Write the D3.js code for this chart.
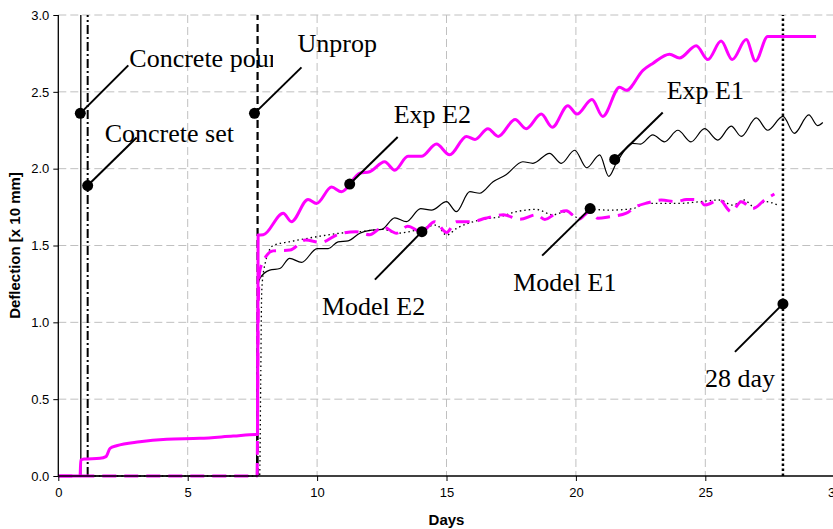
<!DOCTYPE html>
<html>
<head>
<meta charset="utf-8">
<script src="https://cdn.jsdelivr.net/npm/d3@7"></script>
<style>
  html, body { margin: 0; padding: 0; background: #ffffff; }
  svg { display: block; }
</style>
</head>
<body>
<svg id="chart" width="833" height="529"></svg>
<script>
// ---------------- DATA ----------------
const xTicks = [0, 5, 10, 15, 20, 25, 30];
const yTicks = [0.0, 0.5, 1.0, 1.5, 2.0, 2.5, 3.0];

// Exp E2 (magenta, thick solid)
const expE2Days = [0, 0.84, 0.87, 1.0, 1.61, 1.84, 2.0, 2.25, 3.15, 4.19, 5.47, 6.76, 7.66, 7.70, 7.72, 7.92, 8.69, 9.01, 9.65, 9.98, 10.56, 10.94, 11.65, 12.03, 12.61, 13.0, 13.51, 14.03, 14.61, 15.12, 15.77, 16.1, 16.6, 17.0, 17.65, 18.08, 18.66, 19.09, 19.69, 20.04, 20.62, 21.04, 21.69, 21.95, 22.59, 22.97, 23.62, 24.0, 24.65, 25.1, 25.61, 26.04, 26.58, 26.94, 27.41, 29.28];
const expE2Vals = [0, 0, 0.104, 0.11, 0.115, 0.126, 0.18, 0.197, 0.223, 0.239, 0.245, 0.26, 0.27, 0.27, 1.568, 1.57, 1.71, 1.655, 1.80, 1.774, 1.88, 1.85, 1.97, 1.98, 2.045, 1.99, 2.08, 2.08, 2.16, 2.09, 2.21, 2.19, 2.26, 2.21, 2.32, 2.26, 2.355, 2.27, 2.41, 2.355, 2.45, 2.34, 2.53, 2.51, 2.64, 2.685, 2.745, 2.72, 2.80, 2.71, 2.83, 2.71, 2.84, 2.70, 2.86, 2.86];

// Exp E1 (black, thin solid)
const expE1Days = [0, 7.66, 7.70, 7.79, 8.17, 8.56, 8.94, 9.4, 10.0, 10.43, 10.81, 11.2, 11.65, 12.1, 12.5, 13.0, 13.45, 14.0, 14.42, 15.0, 15.38, 15.9, 16.28, 16.8, 17.3, 17.95, 18.34, 18.98, 19.44, 19.95, 20.42, 20.92, 21.27, 21.56, 22.2, 22.5, 22.97, 23.42, 23.94, 24.45, 24.97, 25.48, 26.0, 26.39, 26.97, 27.41, 28.0, 28.44, 29.0, 29.34, 29.54];
const expE1Vals = [0, 0, 1.22, 1.286, 1.34, 1.35, 1.416, 1.39, 1.48, 1.48, 1.524, 1.53, 1.58, 1.60, 1.605, 1.68, 1.655, 1.74, 1.73, 1.785, 1.72, 1.85, 1.84, 1.915, 1.96, 2.045, 2.035, 2.10, 2.035, 2.12, 2.006, 2.09, 1.95, 2.035, 2.164, 2.16, 2.22, 2.175, 2.25, 2.175, 2.26, 2.186, 2.277, 2.21, 2.33, 2.25, 2.34, 2.23, 2.35, 2.28, 2.30];

// Model E2 (magenta, thick dashed)
const modelE2Days = [0, 7.68, 7.72, 7.76, 7.85, 8.3, 8.95, 9.55, 10.15, 10.75, 11.5, 12.03, 12.55, 13.07, 13.5, 14.03, 14.55, 15.0, 15.38, 16.0, 16.5, 17.2, 17.83, 18.47, 18.8, 19.24, 19.63, 20.1, 20.53, 20.85, 21.3, 21.95, 22.27, 22.78, 23.3, 23.88, 24.27, 24.78, 24.97, 25.55, 26.0, 26.39, 26.83, 27.29, 27.67];
const modelE2Vals = [0, 0, 1.0, 1.30, 1.373, 1.465, 1.47, 1.535, 1.52, 1.568, 1.59, 1.57, 1.62, 1.58, 1.625, 1.59, 1.655, 1.585, 1.655, 1.655, 1.677, 1.70, 1.67, 1.70, 1.67, 1.71, 1.726, 1.67, 1.72, 1.677, 1.687, 1.71, 1.748, 1.778, 1.796, 1.785, 1.80, 1.796, 1.763, 1.796, 1.72, 1.785, 1.74, 1.796, 1.835];

// Model E1 (black, dotted)
const modelE1Days = [0, 7.78, 7.82, 7.86, 7.95, 8.3, 8.95, 9.98, 10.88, 11.65, 12.55, 13.07, 13.96, 14.61, 15.0, 15.38, 16.28, 17.05, 17.7, 18.47, 19.1, 19.63, 20.14, 20.53, 21.3, 22.2, 22.72, 24.0, 24.78, 25.55, 26.06, 26.5, 26.9, 27.35, 27.8];
const modelE1Vals = [0, 0, 0.6, 1.2, 1.35, 1.5, 1.525, 1.557, 1.58, 1.59, 1.605, 1.58, 1.605, 1.633, 1.568, 1.61, 1.666, 1.687, 1.72, 1.735, 1.70, 1.72, 1.677, 1.735, 1.73, 1.74, 1.774, 1.774, 1.785, 1.796, 1.763, 1.796, 1.75, 1.785, 1.763];

// Event marker lines (day)
const markerNames = ["Concrete pour", "Concrete set", "Unprop", "28 day"];
const markerDays = [0.87, 1.135, 7.70, 28.0];

// Annotations: label, dot position (day, deflection)
const annotLabels = ["Concrete pour", "Concrete set", "Unprop", "Exp E2", "Model E2", "Model E1", "Exp E1", "28 day"];
const annotDays = [0.85, 1.135, 7.58, 11.26, 14.05, 20.55, 21.5, 28.0];
const annotVals = [2.36, 1.89, 2.36, 1.90, 1.59, 1.74, 2.06, 1.12];

// ---------------- LAYOUT ----------------
const svg = d3.select("#chart");
const L = 58.3, R = 834.7, T = 15, B = 476;
const x = d3.scaleLinear().domain([0, 30]).range([L, R]);
const y = d3.scaleLinear().domain([0, 3]).range([B, T]);

// gridlines
const grid = svg.append("g");
grid.selectAll("line.h").data(yTicks.filter(d => d > 0)).enter().append("line")
  .attr("x1", L).attr("x2", R).attr("y1", d => y(d)).attr("y2", d => y(d))
  .attr("stroke", "#c0c0c0").attr("stroke-width", 1).attr("stroke-dasharray", "8,4");
grid.selectAll("line.v").data(xTicks.filter(d => d > 0)).enter().append("line")
  .attr("y1", T).attr("y2", B).attr("x1", d => x(d)).attr("x2", d => x(d))
  .attr("stroke", "#c0c0c0").attr("stroke-width", 1).attr("stroke-dasharray", "8,4");

// marker lines
const markerStyles = [
  {w: 1.3, dash: null},
  {w: 2, dash: "9,3,2,3"},
  {w: 2.2, dash: "8,4"},
  {w: 2.5, dash: "2.5,2.5"}
];
svg.append("g").selectAll("line").data(markerDays).enter().append("line")
  .attr("x1", d => x(d)).attr("x2", d => x(d)).attr("y1", y(0)).attr("y2", y(3))
  .attr("stroke", "#000").attr("stroke-width", (d, i) => markerStyles[i].w)
  .attr("stroke-dasharray", (d, i) => markerStyles[i].dash);

// series
function pts(days, vals) { return days.map((d, i) => [d, vals[i]]); }
const line = d3.line().x(d => x(d[0])).y(d => y(d[1])).curve(d3.curveMonotoneX);

const g = svg.append("g").attr("fill", "none").attr("stroke-linejoin", "round");
g.append("path").datum(pts(modelE1Days, modelE1Vals)).attr("d", line)
  .attr("stroke", "#000").attr("stroke-width", 1.3).attr("stroke-dasharray", "1.5,3");
g.append("path").datum(pts(expE1Days, expE1Vals)).attr("d", line)
  .attr("stroke", "#000").attr("stroke-width", 1.2);
g.append("path").datum(pts(modelE2Days, modelE2Vals)).attr("d", line)
  .attr("stroke", "#ff00ff").attr("stroke-width", 3).attr("stroke-dasharray", "14,8");
g.append("path").datum(pts(expE2Days, expE2Vals)).attr("d", line)
  .attr("stroke", "#ff00ff").attr("stroke-width", 3);

// axes
const xAxis = svg.append("g").attr("transform", `translate(0,${B})`)
  .call(d3.axisBottom(x).tickValues(xTicks).tickFormat(d3.format("d")).tickSize(5).tickPadding(7));
const yAxis = svg.append("g").attr("transform", `translate(${L},0)`)
  .call(d3.axisLeft(y).tickValues(yTicks).tickFormat(d3.format(".1f")).tickSize(5).tickPadding(4));
[xAxis, yAxis].forEach(a => {
  a.select(".domain").attr("stroke", "#000").attr("stroke-width", 1.3);
  a.selectAll(".tick line").attr("stroke", "#000");
  a.selectAll("text").attr("font-family", "Liberation Sans, Arial, sans-serif")
    .attr("font-size", 13).attr("fill", "#000");
});
xAxis.select(".domain").attr("d", `M${L},0H${R}`);
yAxis.select(".domain").attr("d", `M0,${B}V${T}`);

svg.append("text").attr("x", (L + R) / 2).attr("y", 525).attr("text-anchor", "middle")
  .attr("font-family", "Liberation Sans, Arial, sans-serif").attr("font-weight", "bold")
  .attr("font-size", 15).text("Days");
svg.append("text").attr("transform", `translate(19.5,${(T + B) / 2}) rotate(-90)`)
  .attr("text-anchor", "middle")
  .attr("font-family", "Liberation Sans, Arial, sans-serif").attr("font-weight", "bold")
  .attr("font-size", 15).text("Deflection [x 10 mm]");

// annotations (leader line end and text offsets in pixels relative to the dot)
const annotLayout = [
  {lx: 48, ly: -48, tx: 49, ty: -46, clip: true},
  {lx: 49, ly: -48, tx: 17, ty: -44},
  {lx: 47, ly: -46, tx: 43, ty: -61},
  {lx: 48, ly: -47, tx: 44, ty: -61},
  {lx: -47, ly: 48, tx: -100, ty: 83},
  {lx: -48, ly: 47, tx: -77, ty: 82},
  {lx: 48, ly: -47, tx: 52, ty: -60},
  {lx: -48, ly: 48, tx: -78, ty: 83}
];
svg.append("clipPath").attr("id", "pourClip").attr("clipPathUnits", "userSpaceOnUse")
  .append("rect").attr("x", 0).attr("y", 0).attr("width", 273).attr("height", 529);

const ann = svg.append("g");
annotLabels.forEach((lab, i) => {
  const cx = x(annotDays[i]), cy = y(annotVals[i]), o = annotLayout[i];
  ann.append("line").attr("x1", cx).attr("y1", cy).attr("x2", cx + o.lx).attr("y2", cy + o.ly)
    .attr("stroke", "#000").attr("stroke-width", 2);
  ann.append("circle").attr("cx", cx).attr("cy", cy).attr("r", 5.5).attr("fill", "#000");
  const t = ann.append("text").attr("x", cx + o.tx).attr("y", cy + o.ty)
    .attr("font-family", "Liberation Serif, Times New Roman, serif").attr("font-size", 26)
    .attr("fill", "#000").text(lab);
  if (o.clip) t.attr("clip-path", "url(#pourClip)");
});
</script>
</body>
</html>
